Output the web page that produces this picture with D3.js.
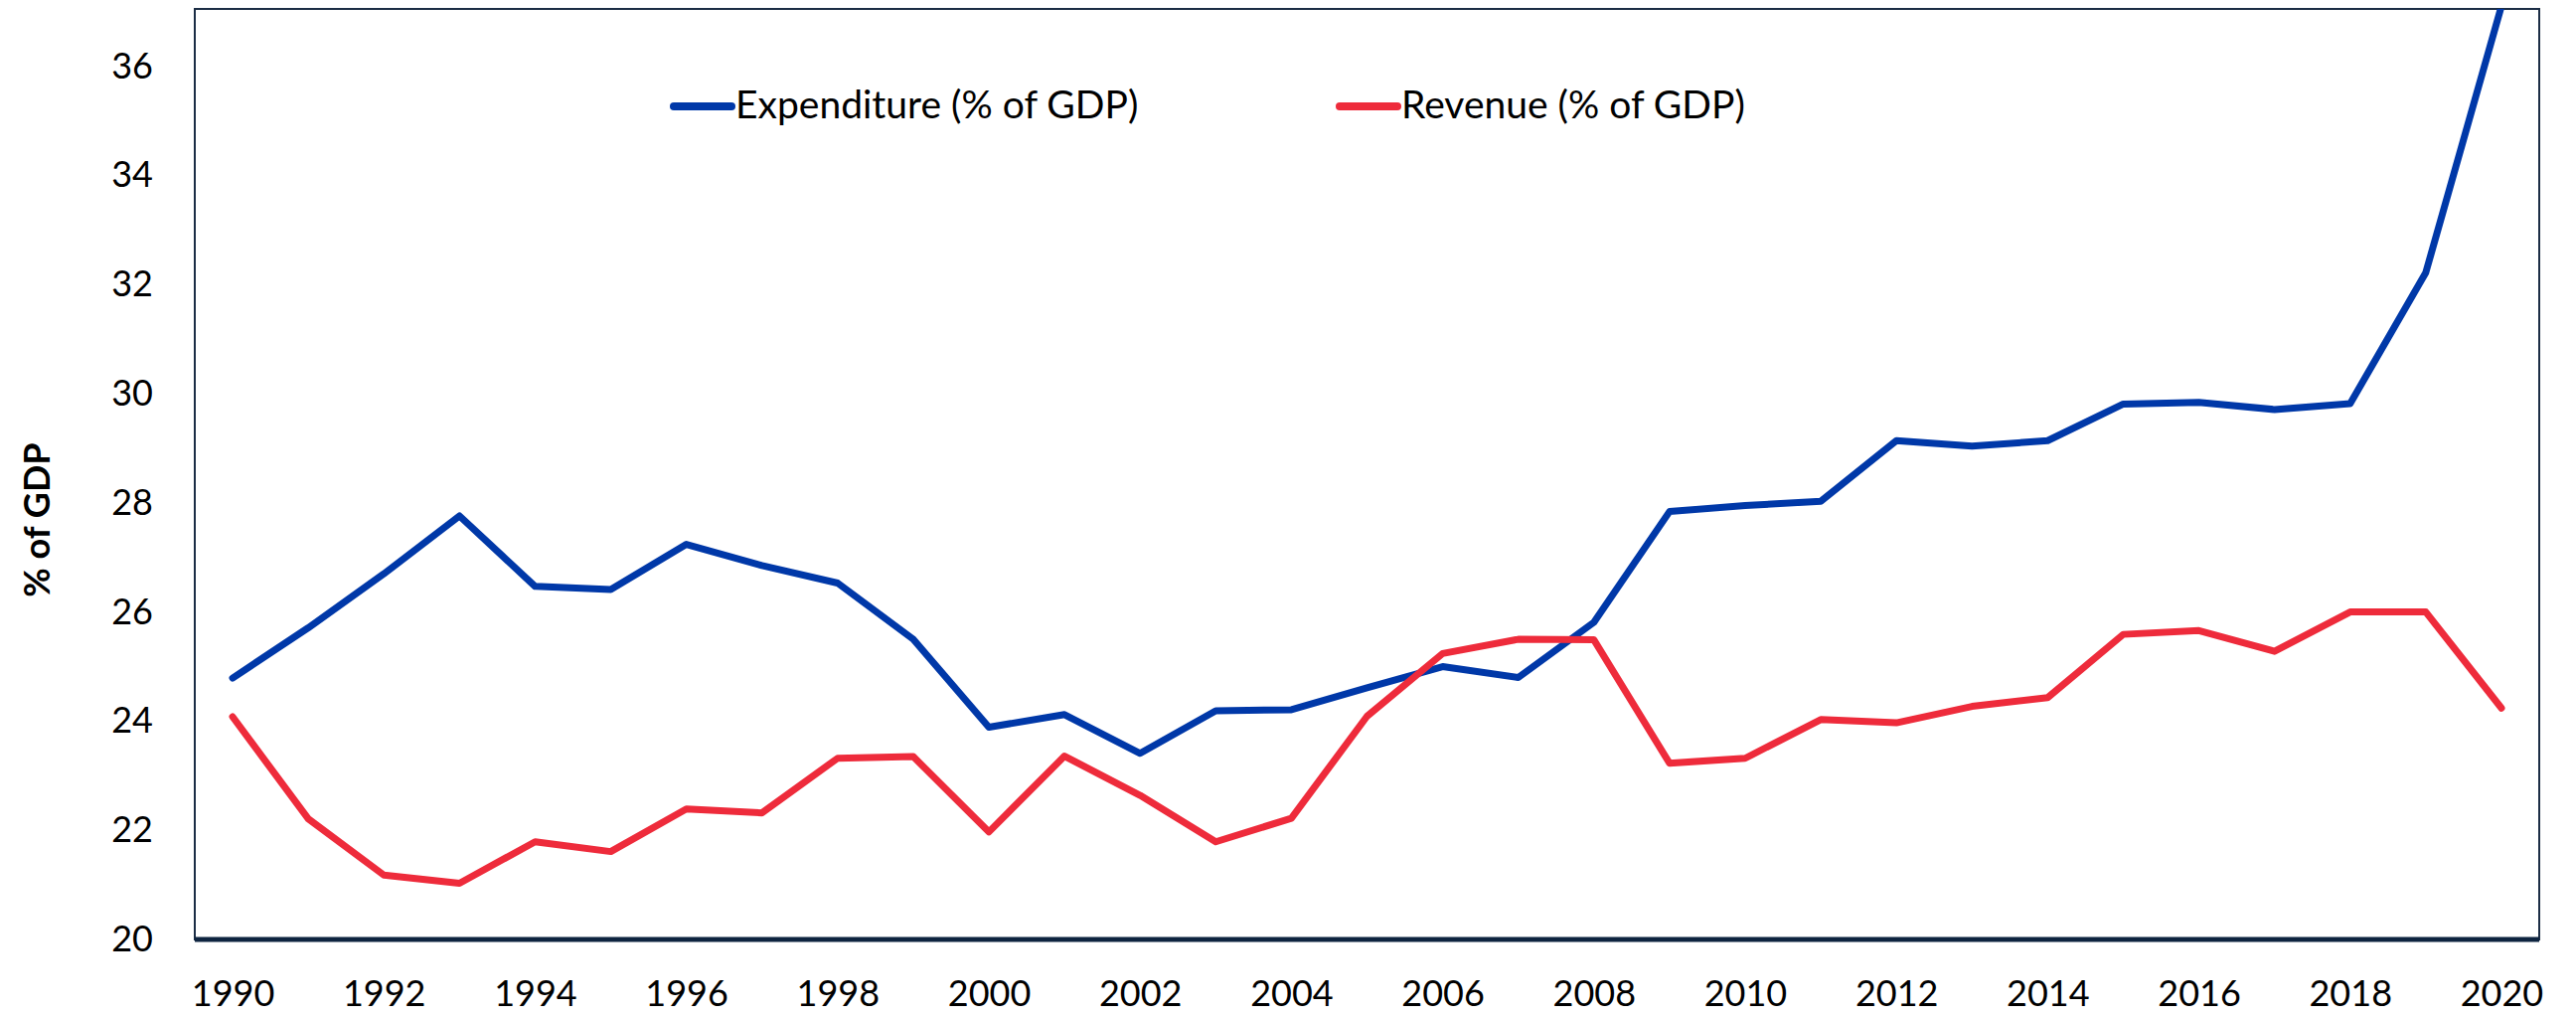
<!DOCTYPE html>
<html>
<head>
<meta charset="utf-8">
<script src="https://cdn.jsdelivr.net/npm/d3@7"></script>
<style>
  body { margin: 0; background: #fff; }
  text { font-family: Lato, "Open Sans", sans-serif; fill: #000; }
</style>
</head>
<body>
<div id="chart"></div>
<script>
// values
var years = d3.range(1990, 2021);
var expenditure = [24.79, 25.71, 26.70, 27.76, 26.47, 26.41, 27.24, 26.85, 26.53, 25.50,
    23.89, 24.12, 23.41, 24.19, 24.21, 24.61, 25.00, 24.80, 25.81, 27.84,
    27.95, 28.03, 29.14, 29.04, 29.14, 29.81, 29.84, 29.71, 29.82, 32.22, 37.10];
var revenue = [24.08, 22.21, 21.18, 21.03, 21.79, 21.61, 22.39, 22.32, 23.32, 23.35,
    21.97, 23.36, 22.64, 21.79, 22.22, 24.09, 25.24, 25.50, 25.49, 23.23,
    23.32, 24.03, 23.97, 24.27, 24.43, 25.59, 25.66, 25.28, 26.00, 26.00, 24.24];
var yTicks = [20, 22, 24, 26, 28, 30, 32, 34, 36];
var xTicks = d3.range(1990, 2021, 2);
var seriesNames = ["Expenditure (% of GDP)", "Revenue (% of GDP)"];
var seriesColors = ["#0038a8", "#ee2b3b"];

var margin = { top: 9, right: 37, bottom: 77, left: 196 },
    width = 2592 - margin.left - margin.right,
    height = 1022 - margin.top - margin.bottom;

var svg = d3.select("#chart").append("svg")
    .attr("width", 2592)
    .attr("height", 1022)
    .append("g")
    .attr("transform", "translate(" + margin.left + "," + margin.top + ")");

var x = d3.scalePoint()
    .domain(years)
    .range([0, width])
    .padding(0.5);

var y = d3.scaleLinear()
    .domain([20, 37.05])
    .range([height, 0]);

svg.append("clipPath").attr("id", "clip")
    .append("rect")
    .attr("width", width)
    .attr("height", height);

// frame
svg.append("rect")
    .attr("width", width)
    .attr("height", height)
    .attr("fill", "none")
    .attr("stroke", "#1b2d45")
    .attr("stroke-width", 2);

var line = d3.line()
    .x(function (d, i) { return x(years[i]); })
    .y(function (d) { return y(d); });

[expenditure, revenue].forEach(function (s, i) {
    svg.append("path")
        .datum(s)
        .attr("clip-path", "url(#clip)")
        .attr("fill", "none")
        .attr("stroke", seriesColors[i])
        .attr("stroke-width", 7)
        .attr("stroke-linejoin", "round")
        .attr("stroke-linecap", "round")
        .attr("d", line);
});

// bottom axis line is heavier
svg.append("line")
    .attr("x1", 0).attr("x2", width)
    .attr("y1", height).attr("y2", height)
    .attr("stroke", "#0e2440")
    .attr("stroke-width", 5);

var yAxis = svg.append("g")
    .call(d3.axisLeft(y).tickValues(yTicks).tickSize(0).tickPadding(42));
yAxis.select(".domain").remove();
yAxis.selectAll("text")
    .style("font-family", "Lato, sans-serif")
    .style("font-size", "36px")
    .attr("fill", "#000");

var xAxis = svg.append("g")
    .attr("transform", "translate(0," + height + ")")
    .call(d3.axisBottom(x).tickValues(xTicks).tickSize(0).tickPadding(41));
xAxis.select(".domain").remove();
xAxis.selectAll("text")
    .style("font-family", "Lato, sans-serif")
    .style("font-size", "36px")
    .attr("fill", "#000");

svg.append("text")
    .attr("transform", "translate(" + (50 - margin.left) + "," + (523 - margin.top) + ") rotate(-90)")
    .attr("text-anchor", "middle")
    .style("font-size", "36px")
    .style("font-weight", "bold")
    .text("% of GDP");

// legend
var legendX = [678, 1348];
seriesNames.forEach(function (name, i) {
    var g = svg.append("g")
        .attr("transform", "translate(" + (legendX[i] - margin.left) + "," + (107 - margin.top) + ")");
    g.append("line")
        .attr("x1", 0).attr("x2", 58)
        .attr("stroke", seriesColors[i])
        .attr("stroke-width", 8)
        .attr("stroke-linecap", "round");
    g.append("text")
        .attr("x", 62)
        .attr("y", 12)
        .style("font-size", "39px")
        .text(name);
});
</script>
</body>
</html>
